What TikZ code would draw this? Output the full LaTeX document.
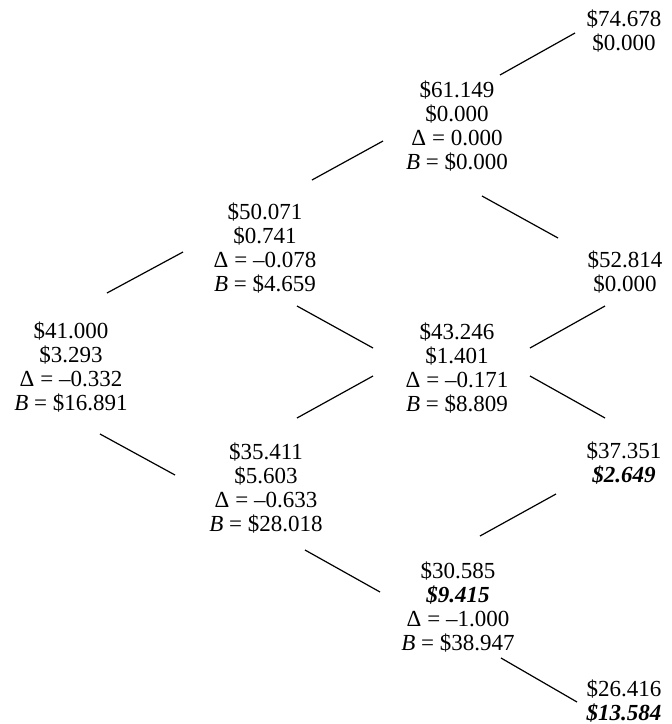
\documentclass[tikz,border=0pt]{standalone}
\usepackage{fontspec}
\setmainfont{Liberation Serif}
\begin{document}
\begin{tikzpicture}[x=1pt,y=-1pt,
  val/.style={align=center, inner sep=0pt, font=\fontsize{23}{23.8}\selectfont},
  conn/.style={line width=1.2pt}]
\useasboundingbox (0,0) rectangle (672,724);
\newcommand{\bi}[1]{\textbf{\textit{#1}}}
% nodes
\node[val] (n74) at (624,31)  {\$74.678\\\$0.000};
\node[val] (n61) at (457,126) {\$61.149\\\$0.000\\Δ = 0.000\\\textit{B} = \$0.000};
\node[val] (n50) at (265,248) {\$50.071\\\$0.741\\Δ = –0.078\\\textit{B} = \$4.659};
\node[val] (n52) at (625,272) {\$52.814\\\$0.000};
\node[val] (n41) at (71,367)  {\$41.000\\\$3.293\\Δ = –0.332\\\textit{B} = \$16.891};
\node[val] (n43) at (457,368) {\$43.246\\\$1.401\\Δ = –0.171\\\textit{B} = \$8.809};
\node[val] (n37) at (624,463) {\$37.351\\\bi{\$2.649}};
\node[val] (n35) at (266,488) {\$35.411\\\$5.603\\Δ = –0.633\\\textit{B} = \$28.018};
\node[val] (n30) at (458,607) {\$30.585\\\bi{\$9.415}\\Δ = –1.000\\\textit{B} = \$38.947};
\node[val] (n26) at (624,701) {\$26.416\\\bi{\$13.584}};
% connector end points
\coordinate (a61u) at (500,75);  \coordinate (a74) at (575,33);
\coordinate (a50u) at (312,180); \coordinate (a61l) at (383,141);
\coordinate (a61d) at (482,196); \coordinate (a52u) at (558,238);
\coordinate (a41u) at (107,293); \coordinate (a50l) at (183,252);
\coordinate (a50d) at (297,306); \coordinate (a43ul) at (373,348);
\coordinate (a43ur) at (530,348); \coordinate (a52d) at (605,306);
\coordinate (a41d) at (100,434); \coordinate (a35l) at (175,475);
\coordinate (a35u) at (297,418); \coordinate (a43dl) at (373,376);
\coordinate (a43dr) at (530,376); \coordinate (a37u) at (605,418);
\coordinate (a35d) at (305,550); \coordinate (a30l) at (380,592);
\coordinate (a30u) at (480,536); \coordinate (a37d) at (556,494);
\coordinate (a30d) at (501,658); \coordinate (a26) at (577,702);
% connectors
\draw[conn] (a61u) -- (a74);
\draw[conn] (a50u) -- (a61l);
\draw[conn] (a61d) -- (a52u);
\draw[conn] (a41u) -- (a50l);
\draw[conn] (a50d) -- (a43ul);
\draw[conn] (a43ur) -- (a52d);
\draw[conn] (a41d) -- (a35l);
\draw[conn] (a35u) -- (a43dl);
\draw[conn] (a43dr) -- (a37u);
\draw[conn] (a35d) -- (a30l);
\draw[conn] (a30u) -- (a37d);
\draw[conn] (a30d) -- (a26);
\end{tikzpicture}
\end{document}
